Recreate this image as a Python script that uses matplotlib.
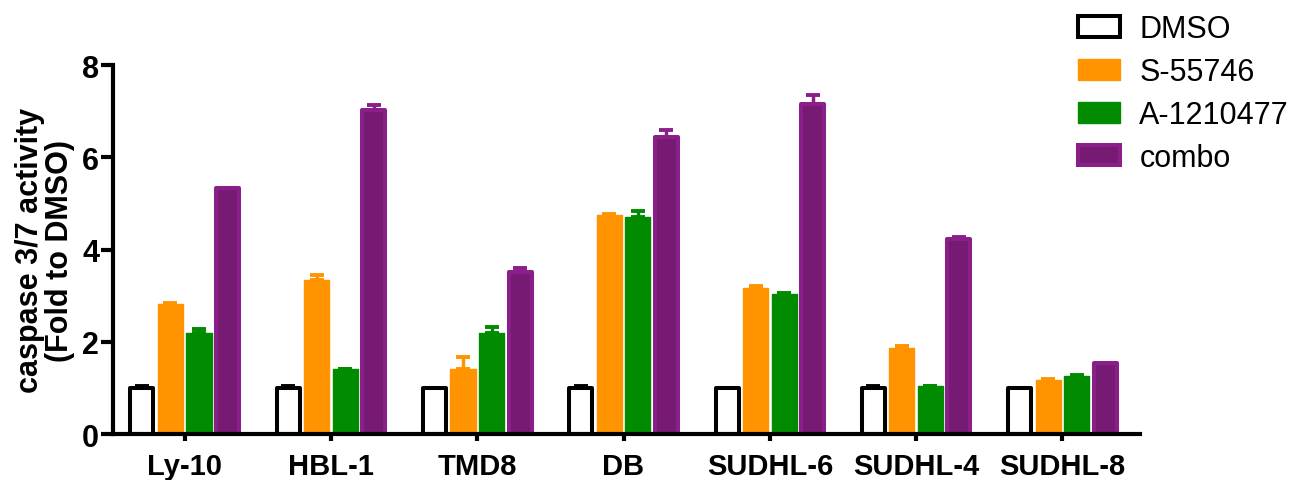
import matplotlib
matplotlib.use("Agg")
import matplotlib.pyplot as plt
import numpy as np
from matplotlib.patches import Patch

plt.rcParams['font.family'] = ['Liberation Sans', 'DejaVu Sans']

cell_lines = ["Ly-10", "HBL-1", "TMD8", "DB", "SUDHL-6", "SUDHL-4", "SUDHL-8"]
series = ["DMSO", "S-55746", "A-1210477", "combo"]

dmso = [1.0, 1.0, 1.0, 1.0, 1.0, 1.0, 1.0]
s55746 = [2.82, 3.35, 1.40, 4.75, 3.17, 1.87, 1.17]
a1210477 = [2.20, 1.40, 2.19, 4.71, 3.04, 1.04, 1.25]
combo = [5.33, 7.02, 3.52, 6.45, 7.16, 4.22, 1.53]

dmso_err = [0.04, 0.04, 0.0, 0.04, 0.0, 0.04, 0.0]
s55746_err = [0.02, 0.10, 0.26, 0.02, 0.04, 0.03, 0.02]
a1210477_err = [0.07, 0.01, 0.12, 0.13, 0.02, 0.01, 0.02]
combo_err = [0.01, 0.12, 0.08, 0.14, 0.20, 0.06, 0.02]

values = [dmso, s55746, a1210477, combo]
errors = [dmso_err, s55746_err, a1210477_err, combo_err]
faces = ["white", "#FF9400", "#008B00", "#761A74"]
edges = ["black", "#FF9400", "#008B00", "#8B1F8A"]
ecolors = ["black", "#FF9400", "#008B00", "#8B1F8A"]

fig = plt.figure(figsize=(12.96, 4.81), dpi=100)
ax = fig.add_axes([0.0872, 0.0956, 0.7924, 0.767])

x = np.arange(len(cell_lines))
pitch = 0.195
width = 0.158
for i, (vals, errs) in enumerate(zip(values, errors)):
    off = (i - 1.5) * pitch
    lw = 2.9 if i in (0, 3) else 1.0
    w = width if i in (0, 3) else width + 0.014
    ax.bar(x + off, vals, width=w, color=faces[i], edgecolor=edges[i],
           linewidth=lw, joinstyle='round', zorder=2)
    ax.errorbar(x + off, vals, yerr=[np.zeros(len(errs)), errs], fmt='none',
                ecolor=ecolors[i], elinewidth=2.5, capsize=5, capthick=2.8, zorder=3)

ax.set_ylim(0, 8)
ax.set_xlim(-0.49, 6.53)
ax.set_yticks([0, 2, 4, 6, 8])
ax.set_xticks(x)
ax.set_xticklabels(cell_lines, fontsize=21, fontweight='bold')
for lab in ax.get_yticklabels():
    lab.set_fontsize(22)
    lab.set_fontweight('bold')
ax.tick_params(axis='y', direction='out', length=9, width=3, pad=1)
ax.tick_params(axis='x', direction='out', length=5, width=3, pad=8)
for side in ['top', 'right']:
    ax.spines[side].set_visible(False)
for side in ['left', 'bottom']:
    ax.spines[side].set_linewidth(3)
ax.spines['left'].set_capstyle('projecting')

ax.set_ylabel("caspase 3/7 activity\n(Fold to DMSO)", fontsize=22,
              fontweight='bold', linespacing=1.0, labelpad=5)

handles = [Patch(facecolor=faces[i], edgecolor=edges[i],
                 linewidth=2.9 if i in (0, 3) else 1.0) for i in range(4)]
fig.legend(handles, series, loc='upper left', bbox_to_anchor=(0.832, 0.968),
           frameon=False, fontsize=22, handlelength=1.35, handleheight=0.65,
           handletextpad=0.65, labelspacing=0.42, borderpad=0, borderaxespad=0)

fig.savefig("out.png", dpi=100)
